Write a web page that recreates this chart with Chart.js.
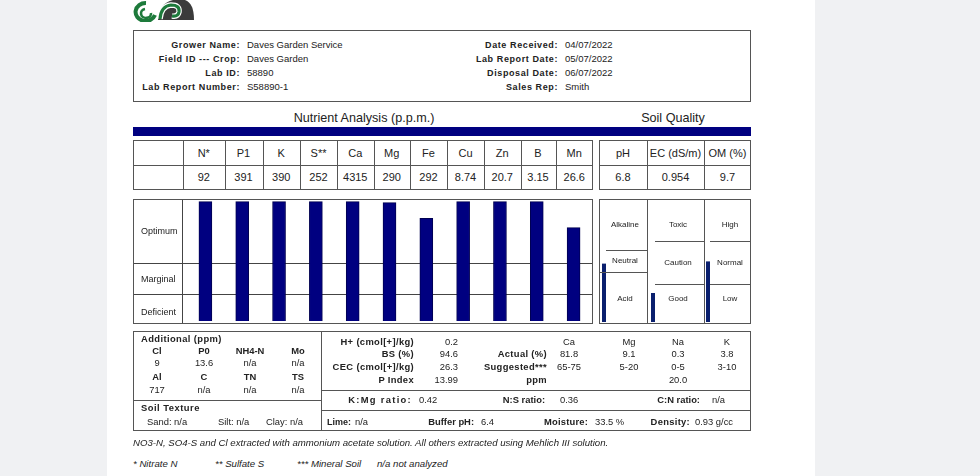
<!DOCTYPE html>
<html><head><meta charset="utf-8">
<script src="https://cdn.jsdelivr.net/npm/chart.js@4.4.1/dist/chart.umd.min.js"></script>
<style>
html,body{margin:0;padding:0;}
body{width:980px;height:476px;overflow:hidden;background:#f0f1f3;position:relative;font-family:"Liberation Sans",Arial,Helvetica,sans-serif;color:#222;}
#page{position:absolute;left:107px;top:0;width:708px;height:476px;background:#fff;}
.t{position:absolute;white-space:nowrap;line-height:1;font-size:9.4px;}
.b{position:absolute;box-sizing:border-box;border:1px solid #555;}
.h{position:absolute;height:0;border-top:1px solid #555;}
.v{position:absolute;width:0;border-left:1px solid #555;}
canvas{position:absolute;}
</style></head>
<body>
<div id="page"></div>
<svg style="position:absolute;left:133px;top:0" width="66" height="22">
  <path d="M25 20 Q26 3 40 0 L52 0 Q61 3 61 20 Z" fill="#3b3b3b"/>
  <path d="M22 15 A 10 9 0 1 1 13 3" stroke="#1d7a3b" stroke-width="4" fill="none"/>
  <path d="M18 13 A 5 4.5 0 1 1 12 9" stroke="#1d7a3b" stroke-width="2.6" fill="none"/>
  <path d="M27 19 Q28 6 38 5 Q47 5 46 12 Q45 17 39 16" stroke="#fff" stroke-width="5.5" fill="none"/>
  <path d="M27 19 Q28 6 38 5 Q47 5 46 12 Q45 17 39 16" stroke="#1d7a3b" stroke-width="3.2" fill="none"/>
</svg>
<canvas id="nutrientChart" width="458" height="123" style="left:134px;top:200px;"></canvas>
<canvas id="sq0" width="4" height="123" style="left:602px;top:199px;"></canvas>
<canvas id="sq1" width="4" height="123" style="left:651px;top:199px;"></canvas>
<canvas id="sq2" width="4" height="123" style="left:706px;top:199px;"></canvas>
<script>
// ---------- data ----------
const headerLeftLabels = ['Grower Name:', 'Field ID --- Crop:', 'Lab ID:', 'Lab Report Number:'];
const headerLeftValues = ['Daves Garden Service', 'Daves Garden', '58890', 'S58890-1'];
const headerRightLabels = ['Date Received:', 'Lab Report Date:', 'Disposal Date:', 'Sales Rep:'];
const headerRightValues = ['04/07/2022', '05/07/2022', '06/07/2022', 'Smith'];

const nutrients = ['N*', 'P1', 'K', 'S**', 'Ca', 'Mg', 'Fe', 'Cu', 'Zn', 'B', 'Mn'];
const nutrientPpm = ['92', '391', '390', '252', '4315', '290', '292', '8.74', '20.7', '3.15', '26.6'];
const sufficiencyLevel = [100, 100, 100, 100, 100, 99.2, 86.1, 100, 100, 100, 78.3];
const levelBands = ['Deficient', 'Marginal', 'Optimum'];
const bandLabelAt = [7.3, 34.4, 75.4];
const bandLimits = [22.4, 48.4];

const soilQualityNames = ['pH', 'EC (dS/m)', 'OM (%)'];
const soilQualityValues = ['6.8', '0.954', '9.7'];
const soilQualityLevel = [47.2, 23.3, 49.0];
const soilQualityBands = [['Alkaline', 'Neutral', 'Acid'], ['Toxic', 'Caution', 'Good'], ['High', 'Normal', 'Low']];

const additionalNames1 = ['Cl', 'P0', 'NH4-N', 'Mo'];
const additionalValues1 = ['9', '13.6', 'n/a', 'n/a'];
const additionalNames2 = ['Al', 'C', 'TN', 'TS'];
const additionalValues2 = ['717', 'n/a', 'n/a', 'n/a'];
const textureNames = ['Sand: n/a', 'Silt: n/a', 'Clay: n/a'];
const cecLabels = ['H+ (cmol[+]/kg)', 'BS (%)', 'CEC (cmol[+]/kg)', 'P Index'];
const cecValues = ['0.2', '94.6', '26.3', '13.99'];
const cations = ['Ca', 'Mg', 'Na', 'K'];
const cationActual = ['81.8', '9.1', '0.3', '3.8'];
const cationSuggested = ['65-75', '5-20', '0-5', '3-10'];
const cationPpm = ['', '', '20.0', ''];

// ---------- helpers ----------
function T(x, y, s, o) {
  o = o || {};
  const e = document.createElement('div');
  e.className = 't';
  e.textContent = s;
  e.style.left = x + 'px';
  e.style.top = y + 'px';
  const tx = o.a === 'r' ? '-100%' : (o.a === 'c' ? '-50%' : '0');
  e.style.transform = 'translate(' + tx + ',-50%)';
  if (o.b) e.style.fontWeight = 'bold';
  if (o.ls) e.style.letterSpacing = o.ls + 'px';
  if (o.s) e.style.fontSize = o.s + 'px';
  if (o.i) e.style.fontStyle = 'italic';
  if (o.c) e.style.color = o.c;
  document.body.appendChild(e);
}
function B(x, y, w, h, cls, extra) {
  const e = document.createElement('div');
  e.className = cls;
  e.style.left = x + 'px'; e.style.top = y + 'px';
  if (w != null) e.style.width = w + 'px';
  if (h != null) e.style.height = h + 'px';
  if (extra) Object.assign(e.style, extra);
  document.body.appendChild(e);
}
const box = (x, y, w, h) => B(x, y, w, h, 'b');
const hl = (x, y, w) => B(x, y, w, null, 'h');
const vl = (x, y, h) => B(x, y, null, h, 'v');

// ---------- header ----------
box(133, 30, 618, 72);
const rowsY = [45, 59, 73, 87];
headerLeftLabels.forEach((s, i) => T(240, rowsY[i], s, {a: 'r', b: 1, ls: 0.6, s: 9}));
headerLeftValues.forEach((s, i) => T(247, rowsY[i], s, {s: 9.5}));
headerRightLabels.forEach((s, i) => T(558, rowsY[i], s, {a: 'r', b: 1, ls: 0.6, s: 9}));
headerRightValues.forEach((s, i) => T(565, rowsY[i], s, {s: 9.5}));

T(364, 118, 'Nutrient Analysis (p.p.m.)', {a: 'c', s: 12.6});
T(673, 118, 'Soil Quality', {a: 'c', s: 12.6});
B(133, 127, 618, 9, 'b', {background: '#000080', border: 'none'});

// ---------- nutrient table ----------
const colEdges = [133, 183, 224.5, 262.5, 300, 337, 373.5, 410, 447, 484, 520.5, 555.5, 593];
box(133, 140, 460, 50);
hl(133, 165, 460);
colEdges.slice(1, -1).forEach(x => vl(Math.round(x), 140, 50));
nutrients.forEach((s, i) => {
  const cx = (colEdges[i + 1] + colEdges[i + 2]) / 2;
  T(cx, 153, s, {a: 'c', s: 11});
  T(cx, 177, nutrientPpm[i], {a: 'c', s: 11});
});
// soil quality table
const sqEdges = [599, 647, 704, 751];
box(599, 140, 152, 50);
hl(599, 165, 152);
vl(647, 140, 50); vl(704, 140, 50);
soilQualityNames.forEach((s, i) => {
  const cx = (sqEdges[i] + sqEdges[i + 1]) / 2;
  T(cx, 153, s, {a: 'c', s: 11});
  T(cx, 177, soilQualityValues[i], {a: 'c', s: 11});
});

// ---------- bar chart box ----------
box(133, 199, 460, 125);
// soil quality box
box(599, 199, 152, 125);
vl(647, 199, 125); vl(704, 199, 125);
hl(606, 250, 41); hl(600, 272, 47);
hl(655, 241, 49); hl(655, 284, 49);
hl(710, 241, 41); hl(710, 284, 41);
const sqLabelY = [[225, 261, 299], [225, 263, 299], [225, 263, 299]];
const sqLabelX = [625, 678, 730];
soilQualityBands.forEach((arr, i) => arr.forEach((s, j) => T(sqLabelX[i], sqLabelY[i][j], s, {a: 'c', s: 8})));

// ---------- additional ----------
box(133, 331, 618, 100);
vl(321, 331, 100);
hl(133, 400, 188);
hl(321, 390, 430);
hl(321, 410, 430);
T(141, 339, 'Additional (ppm)', {b: 1, ls: 0.4});
const addX = [157, 204, 250, 298];
additionalNames1.forEach((s, i) => { T(addX[i], 351, s, {a: 'c', b: 1}); T(addX[i], 363, additionalValues1[i], {a: 'c'}); });
additionalNames2.forEach((s, i) => { T(addX[i], 377, s, {a: 'c', b: 1}); T(addX[i], 390, additionalValues2[i], {a: 'c'}); });
T(141, 408, 'Soil Texture', {b: 1, ls: 0.5});
const texX = [147, 218, 266];
textureNames.forEach((s, i) => T(texX[i], 422, s, {}));

const cecY = [342, 354, 367, 380];
cecLabels.forEach((s, i) => T(414, cecY[i], s, {a: 'r', b: 1, ls: 0.35}));
cecValues.forEach((s, i) => T(458, cecY[i], s, {a: 'r'}));
T(547, 354, 'Actual (%)', {a: 'r', b: 1, ls: 0.35});
T(547, 367, 'Suggested***', {a: 'r', b: 1, ls: 0.35});
T(547, 380, 'ppm', {a: 'r', b: 1, ls: 0.35});
const catX = [569, 629, 678, 727];
cations.forEach((s, i) => {
  T(catX[i], 342, s, {a: 'c'});
  T(catX[i], 354, cationActual[i], {a: 'c'});
  T(catX[i], 367, cationSuggested[i], {a: 'c'});
  if (cationPpm[i]) T(catX[i], 380, cationPpm[i], {a: 'c'});
});
T(412, 400, 'K:Mg ratio:', {a: 'r', b: 1, ls: 1.3}); T(419, 400, '0.42');
T(545, 400, 'N:S ratio:', {a: 'r', b: 1}); T(560, 400, '0.36');
T(700, 400, 'C:N ratio:', {a: 'r', b: 1}); T(712, 400, 'n/a');
T(327, 422, 'Lime:', {b: 1, s: 9}); T(355, 422, 'n/a');
T(474, 422, 'Buffer pH:', {a: 'r', b: 1}); T(481, 422, '6.4');
T(588, 422, 'Moisture:', {a: 'r', b: 1, ls: 0.2}); T(595, 422, '33.5 %');
T(690, 422, 'Density:', {a: 'r', b: 1, ls: 0.3}); T(695, 422, '0.93 g/cc');

T(133, 443, 'NO3-N, SO4-S and Cl extracted with ammonium acetate solution. All others extracted using Mehlich III solution.', {i: 1, s: 9.65});
T(133, 464, '* Nitrate N', {i: 1, s: 9.65});
T(215, 464, '** Sulfate S', {i: 1, s: 9.65});
T(297, 464, '*** Mineral Soil', {i: 1, s: 9.65});
T(377, 464, 'n/a not analyzed', {i: 1, s: 9.65});

// ---------- charts ----------
const bandLines = {
  id: 'bandLines',
  beforeDatasetsDraw(chart) {
    const {ctx, chartArea, scales: {y}} = chart;
    ctx.save();
    ctx.strokeStyle = '#444';
    ctx.lineWidth = 1;
    bandLimits.forEach(v => {
      const py = Math.round(y.getPixelForValue(v)) + 0.5;
      ctx.beginPath(); ctx.moveTo(0, py); ctx.lineTo(chart.width, py); ctx.stroke();
    });
    const px = Math.floor(chartArea.left - 5) + 0.5;
    ctx.beginPath(); ctx.moveTo(px, 0); ctx.lineTo(px, chart.height); ctx.stroke();
    ctx.restore();
  }
};

new Chart(document.getElementById('nutrientChart'), {
  type: 'bar',
  data: {labels: nutrients, datasets: [{data: sufficiencyLevel, backgroundColor: '#000080', borderColor: '#000050', borderWidth: 1, barThickness: 13}]},
  options: {
    responsive: false, animation: false, devicePixelRatio: 1,
    layout: {padding: {left: 7, right: 0, top: 0, bottom: 0}},
    plugins: {legend: {display: false}, tooltip: {enabled: false}},
    scales: {
      x: {display: false},
      y: {
        min: -1.7, max: 101.4,
        afterBuildTicks: s => { s.ticks = bandLabelAt.map(v => ({value: v})); },
        afterFit: s => { s.width = 46; s.paddingTop = 0; s.paddingBottom = 0; },
        grid: {display: false}, border: {display: false},
        ticks: {autoSkip: false, crossAlign: 'far', padding: 0, color: '#222',
          font: {family: '"Liberation Sans", Arial, sans-serif', size: 9},
          callback: (v, i) => levelBands[i]}
      }
    }
  },
  plugins: [bandLines]
});

soilQualityLevel.forEach((v, i) => {
  new Chart(document.getElementById('sq' + i), {
    type: 'bar',
    data: {labels: [soilQualityNames[i]], datasets: [{data: [v], backgroundColor: '#0a1f6e', barPercentage: 1, categoryPercentage: 1}]},
    options: {
      responsive: false, animation: false, devicePixelRatio: 1,
      layout: {padding: 0},
      plugins: {legend: {display: false}, tooltip: {enabled: false}},
      scales: {x: {display: false}, y: {display: false, min: 0, max: 100}}
    }
  });
});
</script>
</body></html>
